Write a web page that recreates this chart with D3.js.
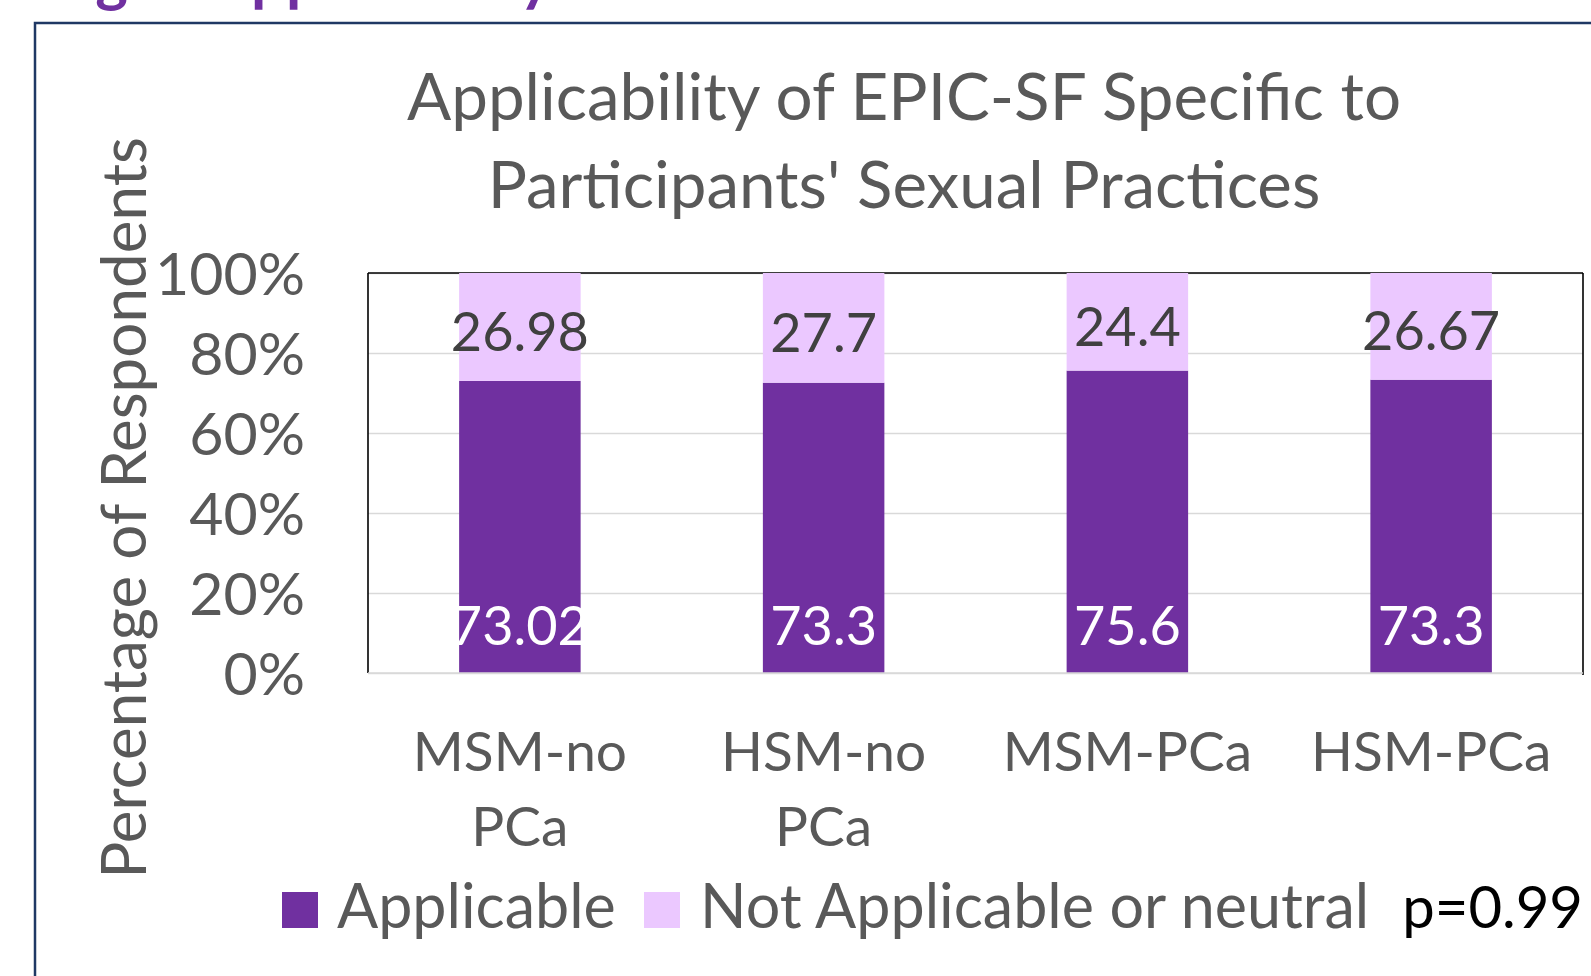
<!DOCTYPE html>
<html><head><meta charset="utf-8">
<script src="https://cdn.jsdelivr.net/npm/d3@7"></script>
<style>body{margin:0;background:#fff;overflow:hidden;} svg{display:block;}</style>
</head><body>
<script>
// ---- data ----
const categories = ["MSM-no PCa", "HSM-no PCa", "MSM-PCa", "HSM-PCa"];
const applicable = [73.02, 73.3, 75.6, 73.3];
const notApplicable = [26.98, 27.7, 24.4, 26.67];
const seriesNames = ["Applicable", "Not Applicable or neutral"];
const yTicks = [0, 0.2, 0.4, 0.6, 0.8, 1.0];
const titleLines = ["Applicability of EPIC-SF Specific to", "Participants' Sexual Practices"];
const yTitle = "Percentage of Respondents";
const pValue = "p=0.99";

// ---- layout ----
const W = 1591, H = 976;
const plot = {x0: 368, x1: 1583, y0: 273, y1: 673};
const FONT = "Lato, 'Open Sans', sans-serif";
const colors = ["#7030A0", "#EBC8FF"];
const gray = "#595959";

const svg = d3.select("body").append("svg").attr("width", W).attr("height", H)
  .style("font-family", FONT);

// slide header remnant (cut off at top in the original)
svg.append("text").attr("x", 128).attr("y", 0).attr("text-anchor", "end")
  .attr("font-weight", 700).attr("font-size", 62).attr("fill", "#7030A0").text("Rating");
svg.append("text").attr("x", 139).attr("y", 0)
  .attr("font-weight", 700).attr("font-size", 62).attr("fill", "#7030A0").text("of Applicability");

// outer frame
svg.append("rect").attr("x", 35).attr("y", 23).attr("width", W + 20).attr("height", H + 20)
  .attr("fill", "none").attr("stroke", "#1F3864").attr("stroke-width", 2.5);

// data table
const rows = categories.map((c, i) => ({cat: c, a: applicable[i], n: notApplicable[i]}));
const stack = d3.stack().keys(["a", "n"]).offset(d3.stackOffsetExpand);
const series = stack(rows);

const x = d3.scaleBand().domain(categories).range([plot.x0, plot.x1])
  .paddingInner(0.6).paddingOuter(0.3);
const y = d3.scaleLinear().domain([0, 1]).range([plot.y1, plot.y0]);

// gridlines
const grid = svg.append("g").attr("transform", `translate(${plot.x0},0)`)
  .call(d3.axisLeft(y).tickValues(yTicks).tickSize(-(plot.x1 - plot.x0)).tickFormat(""));
grid.select(".domain").remove();
grid.selectAll("line").attr("stroke", "#D9D9D9").attr("stroke-width", 1.5);

// plot frame (top, left, right)
const frame = svg.append("g").attr("stroke", "#000").attr("stroke-width", 1.6);
frame.append("line").attr("x1", plot.x0).attr("x2", plot.x1).attr("y1", plot.y0).attr("y2", plot.y0);
frame.append("line").attr("x1", plot.x0).attr("x2", plot.x0).attr("y1", plot.y0).attr("y2", plot.y1);
frame.append("line").attr("x1", plot.x1).attr("x2", plot.x1).attr("y1", plot.y0).attr("y2", plot.y1 + 2);

// bars
svg.append("g").selectAll("g").data(series).join("g")
  .attr("fill", (d, i) => colors[i])
  .selectAll("rect").data(d => d).join("rect")
  .attr("x", d => x(d.data.cat))
  .attr("width", x.bandwidth())
  .attr("y", d => y(d[1]))
  .attr("height", d => y(d[0]) - y(d[1]));

// y axis tick labels
const yAxis = svg.append("g").attr("transform", `translate(${plot.x0 - 63},0)`)
  .call(d3.axisLeft(y).tickValues(yTicks).tickFormat(d3.format(".0%")).tickSize(0).tickPadding(0));
yAxis.select(".domain").remove();
yAxis.selectAll("text").attr("font-family", FONT).attr("font-size", 59).attr("fill", gray)
  .attr("dy", "0.36em");

// data labels
const labG = svg.append("g").attr("font-size", 54).attr("text-anchor", "middle");
labG.selectAll("text.top").data(series[1]).join("text").attr("class", "top")
  .attr("x", d => x(d.data.cat) + x.bandwidth() / 2)
  .attr("y", d => (y(d[0]) + y(d[1])) / 2 + 24)
  .attr("fill", "#404040")
  .text(d => d.data.n);
labG.selectAll("text.bot").data(series[0]).join("text").attr("class", "bot")
  .attr("x", d => x(d.data.cat) + x.bandwidth() / 2)
  .attr("y", y(0) - 28)
  .attr("fill", "#FFFFFF")
  .text(d => d.data.a);

// x axis category labels (wrapped)
const xAxis = svg.append("g").attr("transform", `translate(0,${plot.y1})`)
  .call(d3.axisBottom(x).tickSize(0).tickFormat(""));
xAxis.select(".domain").remove();
xAxis.selectAll(".tick").each(function(d) {
  const words = d.split(" ");
  const t = d3.select(this).append("text").attr("text-anchor", "middle")
    .attr("font-family", FONT).attr("font-size", 55).attr("fill", gray);
  words.forEach((w, i) => t.append("tspan").attr("x", 0).attr("y", 98 + i * 75).text(w));
});
// bottom axis line (0%)
svg.append("line").attr("x1", plot.x0).attr("x2", plot.x1).attr("y1", plot.y1).attr("y2", plot.y1)
  .attr("stroke", "#D9D9D9").attr("stroke-width", 1.5);

// titles
svg.append("g").attr("text-anchor", "middle").attr("font-size", 65.5).attr("fill", gray)
  .selectAll("text").data(titleLines).join("text")
  .attr("x", 904).attr("y", (d, i) => 120 + i * 88).text(d => d);

svg.append("text").attr("transform", "translate(146,508) rotate(-90)")
  .attr("text-anchor", "middle").attr("font-size", 62).attr("fill", gray).text(yTitle);

// legend
const legendPos = [{sq: 282, tx: 337}, {sq: 644, tx: 700}];
const leg = svg.append("g");
seriesNames.forEach((name, i) => {
  leg.append("rect").attr("x", legendPos[i].sq).attr("y", 892).attr("width", 36).attr("height", 36)
    .attr("fill", colors[i]);
  leg.append("text").attr("x", legendPos[i].tx).attr("y", 928).attr("font-size", 61)
    .attr("fill", gray).text(name);
});
svg.append("text").attr("x", 1583).attr("y", 928).attr("text-anchor", "end")
  .attr("font-size", 58).attr("fill", "#000").text(pValue);
</script>
</body></html>
